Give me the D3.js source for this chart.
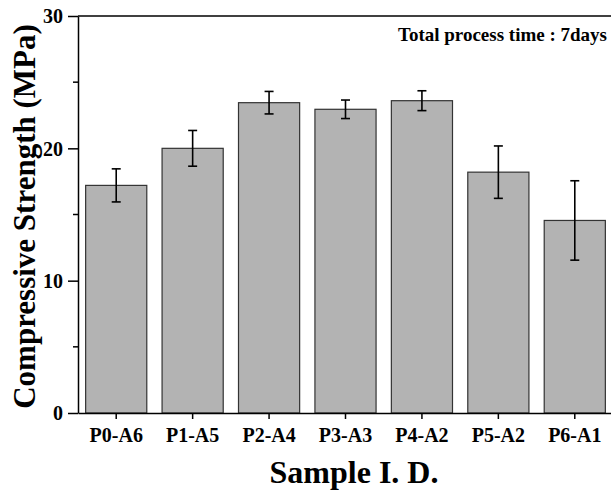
<!DOCTYPE html>
<html>
<head>
<meta charset="utf-8">
<script src="https://cdn.jsdelivr.net/npm/d3@7"></script>
<style>
  body { margin: 0; background: #fff; }
  svg { display: block; }
  text { font-family: "Liberation Serif", "Times New Roman", serif; font-weight: bold; fill: #000; }
</style>
</head>
<body>
<svg id="chart" width="611" height="493"></svg>
<script>
const categories = ["P0-A6", "P1-A5", "P2-A4", "P3-A3", "P4-A2", "P5-A2", "P6-A1"];
const strength = [17.2, 20.0, 23.45, 22.95, 23.6, 18.2, 14.55];
const errors = [1.25, 1.35, 0.85, 0.7, 0.75, 1.98, 3.0];
const yTicks = [0, 10, 20, 30];
const yMinorTicks = [5, 15, 25];

(function () {
const svg = d3.select("#chart");
const mLeft = 78, mTop = 16, mBottom = 413, mRight = 613;
const serif = '"Liberation Serif", "Times New Roman", serif';

const x = d3.scaleBand().domain(categories).range([mLeft, mRight]).paddingInner(0.2).paddingOuter(0.1);
const y = d3.scaleLinear().domain([0, 30]).range([mBottom, mTop]);

// bars
svg.append("g").selectAll("rect").data(categories).join("rect")
  .attr("x", d => x(d))
  .attr("width", x.bandwidth())
  .attr("y", (d, i) => y(strength[i]))
  .attr("height", (d, i) => y(0) - y(strength[i]))
  .attr("fill", "#b3b3b3")
  .attr("stroke", "#333")
  .attr("stroke-width", 1.2);

// error bars
const eb = svg.append("g").attr("stroke", "#000").attr("stroke-width", 1.6);
categories.forEach((c, i) => {
  const cx = x(c) + x.bandwidth() / 2;
  const hi = y(strength[i] + errors[i]), lo = y(strength[i] - errors[i]);
  eb.append("line").attr("x1", cx).attr("x2", cx).attr("y1", hi).attr("y2", lo);
  eb.append("line").attr("x1", cx - 4.5).attr("x2", cx + 4.5).attr("y1", hi).attr("y2", hi);
  eb.append("line").attr("x1", cx - 4.5).attr("x2", cx + 4.5).attr("y1", lo).attr("y2", lo);
});

// y axis
const yAxis = svg.append("g").attr("transform", `translate(${mLeft},0)`)
  .call(d3.axisLeft(y).tickValues(yTicks).tickSize(10).tickPadding(5).tickSizeOuter(0));
yAxis.attr("font-family", serif);
yAxis.select(".domain").attr("stroke-width", 1.5);
yAxis.selectAll(".tick line").attr("stroke-width", 1.5);
yAxis.selectAll("text").style("font-size", "20px").attr("dy", "0.34em");
svg.append("g").selectAll("line").data(yMinorTicks).join("line")
  .attr("x1", mLeft - 5).attr("x2", mLeft).attr("y1", d => y(d)).attr("y2", d => y(d))
  .attr("stroke", "#000").attr("stroke-width", 1.5);

// x axis
const xAxis = svg.append("g").attr("transform", `translate(0,${mBottom})`)
  .call(d3.axisBottom(x).tickSize(6).tickPadding(9).tickSizeOuter(0));
xAxis.attr("font-family", serif);
xAxis.select(".domain").attr("stroke-width", 1.5);
xAxis.selectAll(".tick line").attr("stroke-width", 1.5);
xAxis.selectAll("text").style("font-size", "20px");

// top border
svg.append("line").attr("x1", mLeft).attr("x2", mRight).attr("y1", mTop).attr("y2", mTop)
  .attr("stroke", "#000").attr("stroke-width", 1.5);

// titles
svg.append("text").attr("x", 354).attr("y", 483).attr("text-anchor", "middle")
  .style("font-size", "32px").text("Sample I. D.");
svg.append("text").attr("transform", `translate(35,${(mTop + mBottom) / 2 + 2}) rotate(-90)`)
  .attr("text-anchor", "middle").style("font-size", "31px").text("Compressive Strength (MPa)");
svg.append("text").attr("x", 607).attr("y", 41).attr("text-anchor", "end")
  .style("font-size", "19px").text("Total process time : 7days");
})();
</script>
</body>
</html>
